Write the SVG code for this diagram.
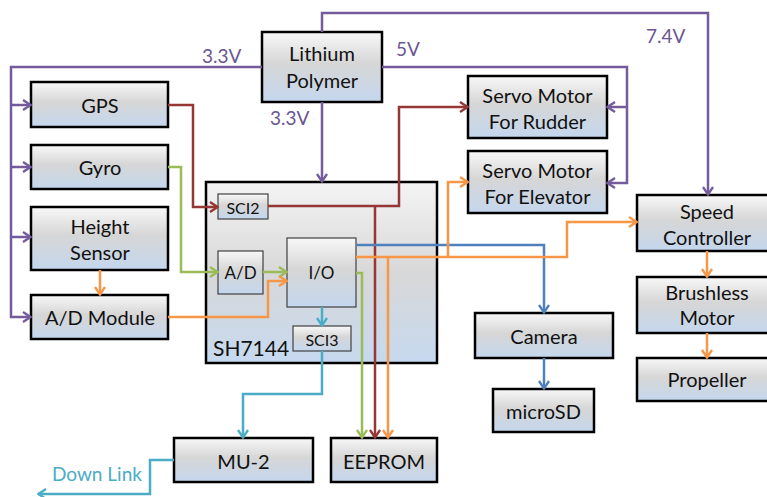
<svg xmlns="http://www.w3.org/2000/svg" width="767" height="497" viewBox="0 0 767 497">
<style>
.box{stroke:#000;stroke-width:2.5;fill:url(#g)}
.sbox{stroke:#404040;stroke-width:1.2;fill:url(#g)}
.big{stroke:#000;stroke-width:2.5;fill:url(#g2)}
text{font-family:Lato,"Open Sans","Liberation Sans",sans-serif;fill:#111;text-anchor:middle;dominant-baseline:central}
.t{font-size:20px}
.s{font-size:16px}
.v{font-size:19px;fill:#6a5693;text-anchor:start}
.c{stroke-width:2.5;fill:none}
.pu{stroke:#735b9c}
.re{stroke:#953735}
.gr{stroke:#9bbb59}
.or{stroke:#f79646}
.bl{stroke:#4f81bd}
.cy{stroke:#4bacc6}
</style>
<defs>
<linearGradient id="g" x1="0" y1="0" x2="0" y2="1">
<stop offset="0" stop-color="#f8f8f8"/>
<stop offset="0.45" stop-color="#d6d6d6"/>
<stop offset="1" stop-color="#c4d7ee"/>
</linearGradient>
<linearGradient id="g2" x1="0" y1="0" x2="0" y2="1">
<stop offset="0" stop-color="#f4f4f4"/>
<stop offset="0.5" stop-color="#d8d8d8"/>
<stop offset="1" stop-color="#c6d9ef"/>
</linearGradient>
<marker id="apu" viewBox="0 0 10 12" markerWidth="10" markerHeight="12" refX="9" refY="6" orient="auto" markerUnits="userSpaceOnUse"><path d="M1,1 L8.5,6 L1,11" fill="none" stroke="#735b9c" stroke-width="2.3"/></marker>
<marker id="are" viewBox="0 0 10 12" markerWidth="10" markerHeight="12" refX="9" refY="6" orient="auto" markerUnits="userSpaceOnUse"><path d="M1,1 L8.5,6 L1,11" fill="none" stroke="#953735" stroke-width="2.3"/></marker>
<marker id="agr" viewBox="0 0 10 12" markerWidth="10" markerHeight="12" refX="9" refY="6" orient="auto" markerUnits="userSpaceOnUse"><path d="M1,1 L8.5,6 L1,11" fill="none" stroke="#9bbb59" stroke-width="2.3"/></marker>
<marker id="aor" viewBox="0 0 10 12" markerWidth="10" markerHeight="12" refX="9" refY="6" orient="auto" markerUnits="userSpaceOnUse"><path d="M1,1 L8.5,6 L1,11" fill="none" stroke="#f79646" stroke-width="2.3"/></marker>
<marker id="abl" viewBox="0 0 10 12" markerWidth="10" markerHeight="12" refX="9" refY="6" orient="auto" markerUnits="userSpaceOnUse"><path d="M1,1 L8.5,6 L1,11" fill="none" stroke="#4f81bd" stroke-width="2.3"/></marker>
<marker id="acy" viewBox="0 0 10 12" markerWidth="10" markerHeight="12" refX="9" refY="6" orient="auto" markerUnits="userSpaceOnUse"><path d="M1,1 L8.5,6 L1,11" fill="none" stroke="#4bacc6" stroke-width="2.3"/></marker>
</defs>
<rect width="767" height="497" fill="#fff"/>

<g id="lipo"><rect class="box" x="262" y="32" width="120" height="70"/><text class="t" x="322" y="53">Lithium</text><text class="t" x="322" y="80">Polymer</text></g>
<g id="gps"><rect class="box" x="31" y="82" width="137" height="45"/><text class="t" x="100" y="105">GPS</text></g>
<g id="gyro"><rect class="box" x="31" y="145" width="137" height="44"/><text class="t" x="100" y="167">Gyro</text></g>
<g id="height"><rect class="box" x="31" y="207" width="137" height="63"/><text class="t" x="100" y="226">Height</text><text class="t" x="100" y="252">Sensor</text></g>
<g id="admod"><rect class="box" x="31" y="295" width="137" height="44"/><text class="t" x="100" y="317">A/D Module</text></g>
<g id="sh7144"><rect class="big" x="206" y="182" width="231" height="181"/><text class="t" x="213" y="347" style="text-anchor:start;font-size:21px">SH7144</text>
<g id="sci2"><rect class="sbox" x="218" y="194" width="50" height="25"/><text class="s" x="243" y="207">SCI2</text></g>
<g id="ad"><rect class="sbox" x="218" y="251" width="45" height="43"/><text class="s" x="240.5" y="272" style="font-size:17px">A/D</text></g>
<g id="io"><rect class="sbox" x="287" y="238" width="69" height="69"/><text class="s" x="321.5" y="272" style="font-size:17px">I/O</text></g>
<g id="sci3"><rect class="sbox" x="293" y="326" width="58" height="25"/><text class="s" x="322" y="339">SCI3</text></g>
</g>
<g id="rudder"><rect class="box" x="468" y="76" width="139" height="62"/><text class="t" x="537.5" y="95">Servo Motor</text><text class="t" x="537.5" y="121">For Rudder</text></g>
<g id="elevator"><rect class="box" x="468" y="151" width="139" height="62"/><text class="t" x="537.5" y="170">Servo Motor</text><text class="t" x="537.5" y="196">For Elevator</text></g>
<g id="speed"><rect class="box" x="637" y="195" width="140" height="56"/><text class="t" x="707" y="211">Speed</text><text class="t" x="707" y="237">Controller</text></g>
<g id="brushless"><rect class="box" x="637" y="277" width="140" height="56"/><text class="t" x="707" y="292">Brushless</text><text class="t" x="707" y="317">Motor</text></g>
<g id="propeller"><rect class="box" x="637" y="358" width="140" height="43"/><text class="t" x="707" y="379">Propeller</text></g>
<g id="camera"><rect class="box" x="475" y="313" width="138" height="45"/><text class="t" x="544" y="336">Camera</text></g>
<g id="microsd"><rect class="box" x="493" y="389" width="101" height="43"/><text class="t" x="543.5" y="411">microSD</text></g>
<g id="mu2"><rect class="box" x="174" y="438" width="139" height="44"/><text class="t" x="243.5" y="461">MU-2</text></g>
<g id="eeprom"><rect class="box" x="331" y="438" width="106" height="44"/><text class="t" x="384" y="461">EEPROM</text></g>

<g id="connectors">
<path class="c pu" d="M262,67 H11 V317 H31" marker-end="url(#apu)"/>
<path class="c pu" d="M11,105 H31" marker-end="url(#apu)"/>
<path class="c pu" d="M11,167 H31" marker-end="url(#apu)"/>
<path class="c pu" d="M11,237 H31" marker-end="url(#apu)"/>
<path class="c pu" d="M322,102 V182" marker-end="url(#apu)"/>
<path class="c pu" d="M322,32 V13 H708 V195" marker-end="url(#apu)"/>
<path class="c pu" d="M382,67 H627 V183 H607" marker-end="url(#apu)"/>
<path class="c pu" d="M627,107 H607" marker-end="url(#apu)"/>

<path class="c re" d="M168,105 H193 V207 H218" marker-end="url(#are)"/>
<path class="c re" d="M268,206 H399 V107 H468" marker-end="url(#are)"/>
<path class="c re" d="M375,206 V438" marker-end="url(#are)"/>

<path class="c gr" d="M168,167 H181 V272 H218" marker-end="url(#agr)"/>
<path class="c gr" d="M263,272 H287" marker-end="url(#agr)"/>
<path class="c gr" d="M356,273 H362 V438" marker-end="url(#agr)"/>

<path class="c bl" d="M356,245 H544 V313" marker-end="url(#abl)"/>
<path class="c bl" d="M544,358 V389" marker-end="url(#abl)"/>

<path class="c or" d="M100,270 V295" marker-end="url(#aor)"/>
<path class="c or" d="M168,317 H268 V281 H287" marker-end="url(#aor)"/>
<path class="c or" d="M356,257 H567 V222 H637" marker-end="url(#aor)"/>
<path class="c or" d="M448,257 V182 H468" marker-end="url(#aor)"/>
<path class="c or" d="M388,257 V438" marker-end="url(#aor)"/>
<path class="c or" d="M707,251 V277" marker-end="url(#aor)"/>
<path class="c or" d="M707,333 V358" marker-end="url(#aor)"/>

<path class="c cy" d="M322,307 V326" marker-end="url(#acy)"/>
<path class="c cy" d="M322,351 V394 H243 V438" marker-end="url(#acy)"/>
<path class="c cy" d="M174,460 H150 V494 H38" marker-end="url(#acy)"/>
</g>

<text class="v" x="202" y="55">3.3V</text>
<text class="v" x="270" y="117">3.3V</text>
<text class="v" x="396" y="48">5V</text>
<text class="v" x="646" y="35">7.4V</text>
<text class="v" x="52" y="473" style="fill:#4bacc6">Down Link</text>
</svg>
